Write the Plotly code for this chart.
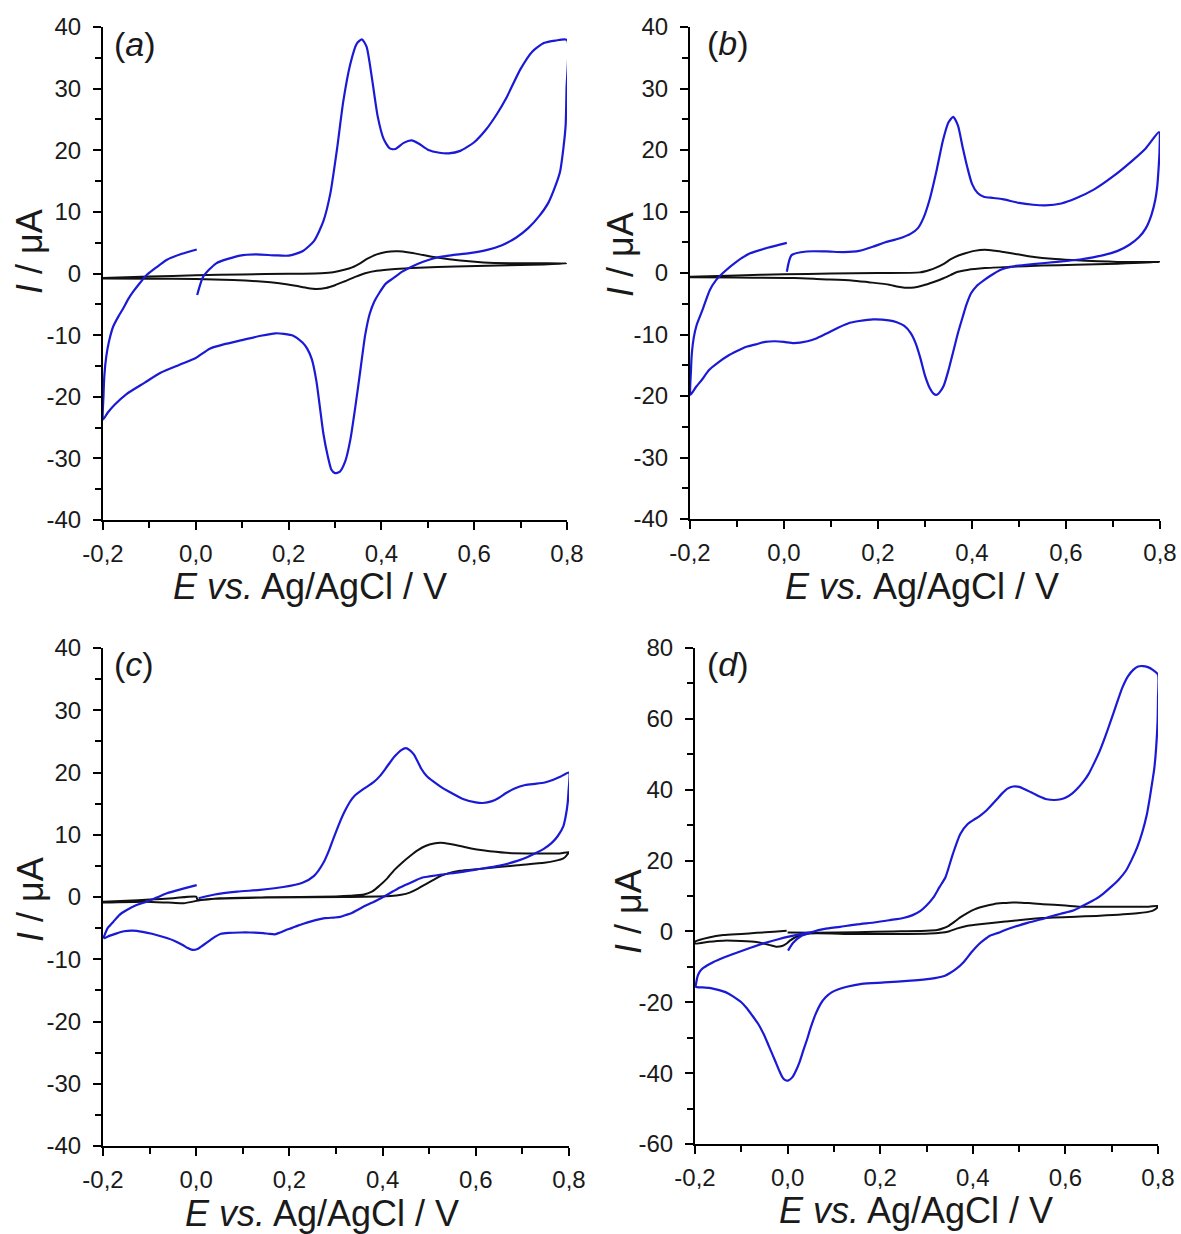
import plotly.graph_objects as go

# ---------------- data (E / V, I / uA) ----------------
a_blue_E = [0.003, 0.016, 0.044, 0.095, 0.13, 0.17, 0.2, 0.23, 0.255, 0.275, 0.29, 0.304, 0.318, 0.333, 0.347, 0.358, 0.368, 0.38, 0.392, 0.405, 0.418, 0.43, 0.448, 0.465, 0.48, 0.5, 0.525, 0.545, 0.57, 0.6, 0.626, 0.65, 0.668, 0.7, 0.725, 0.75, 0.775, 0.8,
            0.799, 0.797, 0.792, 0.785, 0.775, 0.76, 0.74, 0.717, 0.69, 0.66, 0.626, 0.59, 0.55, 0.52, 0.49, 0.465, 0.445, 0.425, 0.41, 0.395, 0.385, 0.375, 0.365, 0.355, 0.345, 0.333, 0.322, 0.31, 0.3, 0.292, 0.284, 0.275, 0.268, 0.26, 0.25, 0.24, 0.23, 0.21, 0.19, 0.172, 0.14, 0.1, 0.06, 0.03, 0.0, -0.035, -0.076, -0.11, -0.15, -0.175, -0.19, -0.2,
            -0.199, -0.197, -0.193, -0.187, -0.178, -0.167, -0.156, -0.146, -0.135, -0.12, -0.106, -0.085, -0.063, -0.03, 0.002]
a_blue_I = [-3.5, -0.5, 1.65, 2.9, 3.1, 2.95, 2.9, 3.6, 5.3, 8.5, 13, 20, 28, 34, 37.3, 38.0, 36.8, 31.5, 25.5, 21.8, 20.3, 20.2, 21.2, 21.6, 21.1, 20.1, 19.6, 19.5, 19.9, 21.3, 23.4, 26, 28.3, 33.2, 36, 37.4, 37.8, 37.9,
            30, 24, 20.2, 16.5, 14.2, 11.5, 9.3, 7.4, 5.8, 4.6, 3.8, 3.3, 2.95, 2.6, 1.9, 1.1, 0.3, -0.8, -1.6, -3.2, -4.5, -6.5, -10, -15.5, -21, -27, -30.5, -32.2, -32.4, -31.8, -29.5, -26, -22, -17.5, -13.9, -12.2, -11.2, -10.1, -9.8, -9.7, -10.1, -10.8, -11.5, -12.2, -13.7, -14.8, -16.1, -17.7, -19.6, -21.3, -22.6, -23.7,
            -20, -16.5, -13.5, -11, -8.6, -7.0, -5.6, -4.2, -2.95, -1.5, -0.25, 1.0, 2.2, 3.2, 3.9]
a_black_E = [-0.2, -0.1, 0.0, 0.1, 0.2, 0.27, 0.296, 0.32, 0.337, 0.355, 0.37, 0.39, 0.41, 0.436, 0.46, 0.49, 0.52, 0.57, 0.62, 0.7, 0.8,
             0.75, 0.65, 0.56, 0.48, 0.43, 0.39, 0.365, 0.345, 0.32, 0.3, 0.28, 0.26, 0.24, 0.215, 0.18, 0.14, 0.08, 0.0, -0.1, -0.2]
a_black_I = [-0.75, -0.5, -0.3, -0.15, -0.05, 0.05, 0.2, 0.6, 1.0, 1.7, 2.4, 3.1, 3.5, 3.6, 3.4, 3.0, 2.6, 2.1, 1.8, 1.65, 1.65,
             1.45, 1.3, 1.15, 0.95, 0.75, 0.45, 0.05, -0.5, -1.3, -1.9, -2.35, -2.5, -2.35, -2.0, -1.6, -1.3, -1.05, -0.9, -0.85, -0.8]

b_blue_E = [0.006, 0.016, 0.048, 0.09, 0.127, 0.16, 0.19, 0.216, 0.245, 0.27, 0.285, 0.297, 0.31, 0.325, 0.338, 0.35, 0.36, 0.37, 0.38, 0.39, 0.4, 0.412, 0.425, 0.445, 0.465, 0.5, 0.53, 0.556, 0.59, 0.62, 0.66, 0.7, 0.74, 0.77, 0.798,
            0.799, 0.797, 0.794, 0.79, 0.782, 0.77, 0.755, 0.735, 0.71, 0.68, 0.63, 0.58, 0.53, 0.49, 0.46, 0.44, 0.425, 0.41, 0.398, 0.388, 0.38, 0.37, 0.36, 0.35, 0.34, 0.333, 0.325, 0.318, 0.31, 0.3, 0.29, 0.28, 0.27, 0.256, 0.24, 0.223, 0.19, 0.16, 0.14, 0.115, 0.094, 0.07, 0.05, 0.021, 0.0, -0.019, -0.04, -0.06, -0.08, -0.1, -0.12, -0.141, -0.16, -0.173, -0.187, -0.199,
            -0.198, -0.196, -0.192, -0.186, -0.178, -0.172, -0.158, -0.145, -0.13, -0.1, -0.072, -0.035, 0.006]
b_blue_I = [0.2, 2.9, 3.5, 3.5, 3.4, 3.6, 4.3, 5.0, 5.6, 6.4, 7.3, 9, 12, 16.8, 21.5, 24.5, 25.4, 24, 20.5, 17.2, 14.5, 13, 12.4, 12.2, 12.0, 11.4, 11.1, 11.0, 11.3, 12.1, 13.6, 15.7, 18.2, 20.3, 22.9,
            20, 17, 14, 11.9, 9.5, 7.3, 5.8, 4.6, 3.6, 2.9, 2.2, 1.8, 1.45, 1.1, 0.5, -0.4, -1.2, -2.1, -3.3, -5.2, -7.2, -9.8, -12.8, -15.8, -18.3, -19.2, -19.8, -19.6, -18.7, -16.7, -13.8, -11.4, -9.8, -8.6, -8.0, -7.7, -7.55, -7.8, -8.1, -8.9, -9.7, -10.6, -11.1, -11.4, -11.2, -11.1, -11.2, -11.6, -12.0, -12.7, -13.5, -14.6, -15.8, -17.2, -18.5, -19.8,
            -16, -13, -10.5, -8.5, -6.9, -5.7, -2.8, -1.2, 0, 1.9, 3.2, 4.1, 4.9]
b_black_E = [-0.2, -0.1, 0.0, 0.1, 0.2, 0.289, 0.31, 0.321, 0.34, 0.354, 0.37, 0.386, 0.405, 0.427, 0.45, 0.467, 0.5, 0.532, 0.57, 0.612, 0.709, 0.8,
             0.709, 0.62, 0.548, 0.48, 0.427, 0.39, 0.37, 0.355, 0.338, 0.317, 0.297, 0.277, 0.257, 0.24, 0.224, 0.18, 0.144, 0.08, 0.022, -0.1, -0.2]
b_black_I = [-0.6, -0.4, -0.2, -0.1, 0.0, 0.1, 0.5, 0.8, 1.5, 2.2, 2.8, 3.2, 3.6, 3.8, 3.6, 3.4, 3.0, 2.6, 2.3, 2.1, 1.8, 1.8,
             1.5, 1.35, 1.2, 1.0, 0.8, 0.5, 0.2, -0.3, -0.9, -1.5, -2.0, -2.35, -2.4, -2.2, -1.9, -1.5, -1.2, -1.0, -0.8, -0.75, -0.7]

c_blue_E = [0.005, 0.04, 0.088, 0.137, 0.187, 0.228, 0.253, 0.273, 0.285, 0.294, 0.307, 0.319, 0.33, 0.339, 0.36, 0.38, 0.395, 0.41, 0.426, 0.44, 0.45, 0.458, 0.467, 0.475, 0.483, 0.495, 0.508, 0.525, 0.541, 0.574, 0.6, 0.615, 0.635, 0.649, 0.665, 0.682, 0.706, 0.73, 0.748, 0.765, 0.781, 0.8,
            0.799, 0.797, 0.793, 0.788, 0.776, 0.763, 0.745, 0.73, 0.71, 0.689, 0.649, 0.608, 0.567, 0.526, 0.5, 0.484, 0.46, 0.436, 0.411, 0.386, 0.366, 0.353, 0.333, 0.321, 0.309, 0.296, 0.276, 0.263, 0.243, 0.23, 0.218, 0.205, 0.193, 0.18, 0.169, 0.155, 0.144, 0.115, 0.095, 0.07, 0.053, 0.04, 0.025, 0.012, 0.004, -0.008, -0.018, -0.029, -0.045, -0.063, -0.095, -0.115, -0.136, -0.155, -0.169, -0.185, -0.197,
            -0.198, -0.196, -0.19, -0.178, -0.165, -0.149, -0.128, -0.106, -0.085, -0.063, -0.03, 0.001]
c_blue_I = [-0.2, 0.4, 0.85, 1.15, 1.6, 2.3, 3.4, 5.5, 7.5, 9.3, 11.8, 13.8, 15.3, 16.2, 17.4, 18.4, 19.5, 21, 22.6, 23.6, 23.9, 23.6, 22.9, 21.8, 20.6, 19.4, 18.6, 17.7, 17.0, 15.7, 15.2, 15.1, 15.4, 15.9, 16.7, 17.4, 18.0, 18.2, 18.4, 18.8, 19.3, 20.0,
            17, 15, 13, 11.4, 9.8, 8.7, 7.7, 7.1, 6.4, 5.8, 5.0, 4.5, 4.0, 3.6, 3.3, 3.1, 2.3, 1.5, 0.4, -0.6, -1.3, -1.8, -2.6, -2.9, -3.2, -3.3, -3.4, -3.6, -4.0, -4.3, -4.6, -5.0, -5.3, -5.7, -6.0, -5.9, -5.8, -5.7, -5.7, -5.75, -5.9, -6.4, -7.2, -7.9, -8.3, -8.5, -8.2, -7.7, -7.1, -6.6, -5.9, -5.6, -5.4, -5.5, -5.8, -6.2, -6.6,
            -6.4, -6.0, -5.0, -4.0, -2.9, -2.1, -1.3, -0.75, -0.1, 0.6, 1.3, 1.9]
c_black_E = [-0.2, -0.15, -0.1, -0.05, 0.0, 0.003, 0.05, 0.15, 0.3, 0.33, 0.36, 0.378, 0.393, 0.41, 0.426, 0.443, 0.459, 0.475, 0.492, 0.51, 0.525, 0.545, 0.566, 0.59, 0.615, 0.665, 0.73, 0.78, 0.8,
             0.795, 0.788, 0.77, 0.747, 0.689, 0.607, 0.566, 0.54, 0.525, 0.508, 0.491, 0.475, 0.458, 0.44, 0.417, 0.319, 0.154, 0.039, 0.01, -0.027, -0.06, -0.11, -0.2]
c_black_I = [-0.75, -0.6, -0.4, -0.2, 0.05, -0.45, -0.2, -0.05, 0.1, 0.2, 0.4, 0.9, 1.8, 3.0, 4.4, 5.6, 6.6, 7.5, 8.2, 8.6, 8.7, 8.5, 8.2, 7.8, 7.5, 7.1, 7.0, 7.0, 7.2,
             6.7, 6.2, 5.8, 5.5, 5.1, 4.5, 4.2, 3.8, 3.4, 2.7, 2.0, 1.3, 0.7, 0.35, 0.15, 0.0, -0.1, -0.3, -0.5, -1.0, -0.9, -0.75, -0.9]

d_blue_E = [0.001, 0.012, 0.027, 0.055, 0.08, 0.113, 0.15, 0.19, 0.221, 0.25, 0.27, 0.287, 0.3, 0.315, 0.328, 0.341, 0.357, 0.373, 0.389, 0.402, 0.414, 0.43, 0.45, 0.463, 0.475, 0.487, 0.5, 0.511, 0.53, 0.544, 0.56, 0.576, 0.59, 0.601, 0.615, 0.625, 0.64, 0.65, 0.662, 0.674, 0.686, 0.698, 0.71, 0.723, 0.735, 0.747, 0.757, 0.767, 0.778, 0.788, 0.8,
            0.8, 0.799, 0.796, 0.792, 0.788, 0.782, 0.776, 0.766, 0.755, 0.743, 0.731, 0.715, 0.698, 0.682, 0.666, 0.64, 0.617, 0.59, 0.568, 0.551, 0.52, 0.49, 0.47, 0.455, 0.437, 0.425, 0.413, 0.397, 0.38, 0.364, 0.35, 0.34, 0.307, 0.266, 0.209, 0.16, 0.128, 0.11, 0.095, 0.082, 0.071, 0.06, 0.05, 0.042, 0.034, 0.026, 0.018, 0.01, 0.001, -0.006, -0.011, -0.018, -0.027, -0.04, -0.052, -0.064, -0.076, -0.088, -0.1, -0.117, -0.133, -0.15, -0.166, -0.183, -0.198,
            -0.197, -0.194, -0.189, -0.182, -0.16, -0.139, -0.11, -0.08, -0.05, -0.02, 0.005, 0.03, 0.055]
d_blue_I = [-5.4, -3.2, -1.5, -0.1, 0.7, 1.3, 2.0, 2.6, 3.2, 3.8, 4.6, 5.8, 7.3, 9.6, 12.5, 15.3, 21.9, 27.5, 30.3, 31.5, 32.5, 34.2, 37, 38.9, 40.3, 40.9, 40.8, 40.2, 39.0, 38.1, 37.3, 37.1, 37.3, 37.8, 39, 40.2, 42.5, 44.4, 47.5, 50.9, 55, 59.4, 64, 68.8, 72, 73.9, 74.8, 74.9, 74.6, 73.9, 72.5,
            66, 59, 51.9, 46, 42.5, 37.5, 33.1, 28, 23.7, 20.2, 17.2, 14.6, 12.5, 10.7, 9.2, 7.4, 5.9, 5.0, 4.2, 3.5, 2.5, 1.3, 0.4, -0.4, -1.2, -2.3, -3.6, -5.9, -8.7, -10.6, -11.8, -12.5, -13.4, -13.9, -14.4, -14.8, -15.6, -16.3, -17.2, -18.6, -20.5, -23.5, -27.1, -30.5, -33.6, -36.8, -39.3, -41.2, -42.1, -41.9, -41.2, -39.3, -36.5, -32.5, -28.9, -26, -23.8, -21.7, -20.0, -18.4, -17.2, -16.5, -16.0, -15.8, -15.6,
            -14.2, -12.5, -11.2, -10.3, -8.6, -7.4, -6.0, -4.6, -3.3, -2.2, -1.4, -0.7, -0.1]
d_black_E = [0.0, 0.06, 0.15, 0.225, 0.3, 0.323, 0.336, 0.348, 0.36, 0.372, 0.388, 0.405, 0.425, 0.445, 0.465, 0.486, 0.52, 0.551, 0.6, 0.633, 0.714, 0.78, 0.8,
             0.795, 0.788, 0.755, 0.674, 0.551, 0.47, 0.42, 0.389, 0.365, 0.348, 0.33, 0.307, 0.144, 0.048, 0.019, 0.005, -0.002, -0.012, -0.025, -0.04, -0.067, -0.1, -0.139, -0.17, -0.2,
             -0.2, -0.17, -0.139, -0.1, -0.067, -0.03, -0.002]
d_black_I = [-0.3, -0.35, -0.2, 0.0, 0.2, 0.4, 0.9, 1.6, 2.7, 3.9, 5.2, 6.3, 7.1, 7.7, 8.0, 8.2, 8.0, 7.7, 7.3, 7.0, 7.0, 7.0, 7.2,
             6.3, 5.8, 5.1, 4.4, 3.8, 2.8, 2.1, 1.6, 0.8, 0.0, -0.4, -0.6, -0.75, -0.6, -1.5, -2.6, -3.4, -4.1, -4.3, -3.8, -3.0, -2.7, -2.6, -2.9, -3.4,
             -2.9, -1.7, -1.0, -0.7, -0.4, -0.1, 0.2]

x_tickvals = [-0.2, 0.0, 0.2, 0.4, 0.6, 0.8]
x_ticktext = ["-0,2", "0,0", "0,2", "0,4", "0,6", "0,8"]
y_tickvals_abc = [-40, -30, -20, -10, 0, 10, 20, 30, 40]
y_ticktext_abc = ["-40", "-30", "-20", "-10", "0", "10", "20", "30", "40"]
y_tickvals_d = [-60, -40, -20, 0, 20, 40, 60, 80]
y_ticktext_d = ["-60", "-40", "-20", "0", "20", "40", "60", "80"]
panel_letters = ["a", "b", "c", "d"]

# ---------------- layout geometry (pixels) ----------------
W, H = 1181, 1234
BLUE = "#1a1ad6"
BLACK = "#111111"
TXT = "#1a1a1a"
FONT = "Arial, Liberation Sans, sans-serif"

# (x_left, x_right, y_top, y_bottom) in pixels
boxes = [(103, 567, 27, 520), (690, 1160, 27, 519), (103, 569, 648, 1146), (695, 1158, 648, 1144)]
yranges = [(-40, 40), (-40, 40), (-40, 40), (-60, 80)]

fig = go.Figure()
series = [(a_blue_E, a_blue_I, a_black_E, a_black_I),
          (b_blue_E, b_blue_I, b_black_E, b_black_I),
          (c_blue_E, c_blue_I, c_black_E, c_black_I),
          (d_blue_E, d_blue_I, d_black_E, d_black_I)]

for i, (bx, by, kx, ky) in enumerate(series):
    n = "" if i == 0 else str(i + 1)
    fig.add_trace(go.Scatter(x=kx, y=ky, mode="lines", xaxis="x" + n, yaxis="y" + n,
                             line=dict(color=BLACK, width=2, shape="spline", smoothing=0.6),
                             showlegend=False, hoverinfo="skip"))
    fig.add_trace(go.Scatter(x=bx, y=by, mode="lines", xaxis="x" + n, yaxis="y" + n,
                             line=dict(color=BLUE, width=2.2, shape="spline", smoothing=0.6),
                             showlegend=False, hoverinfo="skip"))

annotations = []
layout = dict(width=W, height=H, autosize=False, margin=dict(l=0, r=0, t=0, b=0, pad=0),
              paper_bgcolor="white", plot_bgcolor="white", showlegend=False)

for i, (xl, xr, yt, yb) in enumerate(boxes):
    n = "" if i == 0 else str(i + 1)
    d = i == 3
    layout["xaxis" + n] = dict(
        domain=[xl / W, xr / W], range=[-0.2, 0.8], anchor="y" + n, automargin=False,
        showline=True, linecolor="black", linewidth=2, showgrid=False, zeroline=False,
        ticks="outside", ticklen=8, tickwidth=2, tickcolor="black",
        tickvals=x_tickvals, ticktext=x_ticktext, ticklabelstandoff=3,
        tickfont=dict(family=FONT, size=24, color=TXT),
        minor=dict(ticks="outside", ticklen=6, tickwidth=2, tickcolor="black", dtick=0.1, tick0=-0.2, showgrid=False),
        fixedrange=True)
    layout["yaxis" + n] = dict(
        domain=[1 - yb / H, 1 - yt / H], range=list(yranges[i]), anchor="x" + n, automargin=False,
        showline=True, linecolor="black", linewidth=2, showgrid=False, zeroline=False,
        ticks="outside", ticklen=8, tickwidth=2, tickcolor="black",
        tickvals=y_tickvals_d if d else y_tickvals_abc,
        ticktext=y_ticktext_d if d else y_ticktext_abc, ticklabelstandoff=7,
        tickfont=dict(family=FONT, size=24, color=TXT),
        minor=dict(ticks="outside", ticklen=6, tickwidth=2, tickcolor="black",
                   dtick=10 if d else 5, tick0=0, showgrid=False),
        fixedrange=True)

# axis titles & panel labels (pixel positions)
xtitle_pos = [(310, 586), (922, 586), (322, 1213), (916, 1210)]
ytitle_pos = [(30, 252), (620, 255), (30, 900), (628, 912)]
label_pos = [(112, 44), (705, 43), (112, 664), (705, 664)]
for i in range(4):
    xp, yp = xtitle_pos[i]
    annotations.append(dict(text="<i>E vs.</i> Ag/AgCl / V", x=xp / W, y=1 - yp / H, xref="paper", yref="paper",
                            showarrow=False, xanchor="center", yanchor="middle",
                            font=dict(family=FONT, size=36, color=TXT)))
    xp, yp = ytitle_pos[i]
    annotations.append(dict(text="<i>I</i> / μA", x=xp / W, y=1 - yp / H, xref="paper", yref="paper",
                            showarrow=False, xanchor="center", yanchor="middle", textangle=-90,
                            font=dict(family=FONT, size=36, color=TXT)))
    xp, yp = label_pos[i]
    annotations.append(dict(text="(<i>" + panel_letters[i] + "</i>)", x=xp / W, y=1 - yp / H, xref="paper", yref="paper",
                            showarrow=False, xanchor="left", yanchor="middle",
                            font=dict(family=FONT, size=34, color=TXT)))

layout["annotations"] = annotations
fig.update_layout(**layout)
fig.write_html("out.html")
